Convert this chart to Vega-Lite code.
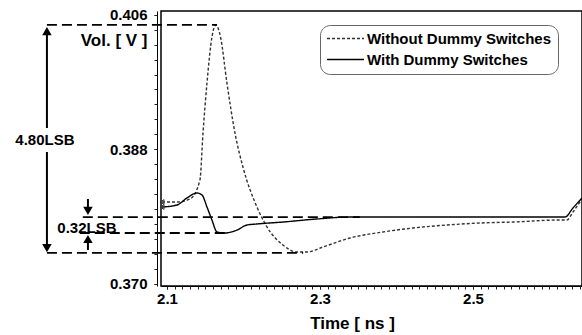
{
  "$schema": "https://vega.github.io/schema/vega-lite/v6.json",
  "width": 421,
  "height": 275,
  "autosize": {"type": "none"},
  "padding": {"left": 161, "top": 11, "right": 0, "bottom": 49},
  "background": "#ffffff",
  "config": {
    "font": "Liberation Sans",
    "view": {"stroke": "#000000", "strokeWidth": 1.5},
    "axis": {"grid": false, "labelFont": "Liberation Sans", "labelFontWeight": "bold", "labelColor": "#000", "titleFont": "Liberation Sans", "titleFontWeight": "bold", "titleColor": "#000", "domainColor": "#000", "tickColor": "#222", "labelOverlap": false}
  },
  "resolve": {"axis": {"x": "independent", "y": "independent"}},
  "datasets": {
    "curves": [
      {"t": 2.0935, "v": 0.38094, "series": "Without Dummy Switches"},
      {"t": 2.1131, "v": 0.38094, "series": "Without Dummy Switches"},
      {"t": 2.1301, "v": 0.38134, "series": "Without Dummy Switches"},
      {"t": 2.1431, "v": 0.38388, "series": "Without Dummy Switches"},
      {"t": 2.1471, "v": 0.39017, "series": "Without Dummy Switches"},
      {"t": 2.1523, "v": 0.39686, "series": "Without Dummy Switches"},
      {"t": 2.1588, "v": 0.40302, "series": "Without Dummy Switches"},
      {"t": 2.1640, "v": 0.40463, "series": "Without Dummy Switches"},
      {"t": 2.1700, "v": 0.40302, "series": "Without Dummy Switches"},
      {"t": 2.1784, "v": 0.39686, "series": "Without Dummy Switches"},
      {"t": 2.1889, "v": 0.39017, "series": "Without Dummy Switches"},
      {"t": 2.1993, "v": 0.38562, "series": "Without Dummy Switches"},
      {"t": 2.2176, "v": 0.38027, "series": "Without Dummy Switches"},
      {"t": 2.2307, "v": 0.3776, "series": "Without Dummy Switches"},
      {"t": 2.2516, "v": 0.37519, "series": "Without Dummy Switches"},
      {"t": 2.2699, "v": 0.37425, "series": "Without Dummy Switches"},
      {"t": 2.283, "v": 0.37425, "series": "Without Dummy Switches"},
      {"t": 2.3039, "v": 0.37492, "series": "Without Dummy Switches"},
      {"t": 2.3392, "v": 0.37612, "series": "Without Dummy Switches"},
      {"t": 2.3824, "v": 0.37693, "series": "Without Dummy Switches"},
      {"t": 2.4216, "v": 0.37746, "series": "Without Dummy Switches"},
      {"t": 2.466, "v": 0.37786, "series": "Without Dummy Switches"},
      {"t": 2.5092, "v": 0.37813, "series": "Without Dummy Switches"},
      {"t": 2.5523, "v": 0.37826, "series": "Without Dummy Switches"},
      {"t": 2.6137, "v": 0.37853, "series": "Without Dummy Switches"},
      {"t": 2.6229, "v": 0.37853, "series": "Without Dummy Switches"},
      {"t": 2.6307, "v": 0.3796, "series": "Without Dummy Switches"},
      {"t": 2.6425, "v": 0.38134, "series": "Without Dummy Switches"},
      {"t": 2.0935, "v": 0.38027, "series": "With Dummy Switches"},
      {"t": 2.1131, "v": 0.38054, "series": "With Dummy Switches"},
      {"t": 2.1261, "v": 0.38148, "series": "With Dummy Switches"},
      {"t": 2.1392, "v": 0.38214, "series": "With Dummy Switches"},
      {"t": 2.1458, "v": 0.38188, "series": "With Dummy Switches"},
      {"t": 2.1523, "v": 0.38027, "series": "With Dummy Switches"},
      {"t": 2.1588, "v": 0.37853, "series": "With Dummy Switches"},
      {"t": 2.1654, "v": 0.37693, "series": "With Dummy Switches"},
      {"t": 2.1758, "v": 0.37679, "series": "With Dummy Switches"},
      {"t": 2.1915, "v": 0.37719, "series": "With Dummy Switches"},
      {"t": 2.2046, "v": 0.37786, "series": "With Dummy Switches"},
      {"t": 2.2176, "v": 0.378, "series": "With Dummy Switches"},
      {"t": 2.2516, "v": 0.37826, "series": "With Dummy Switches"},
      {"t": 2.2961, "v": 0.37867, "series": "With Dummy Switches"},
      {"t": 2.3392, "v": 0.37893, "series": "With Dummy Switches"},
      {"t": 2.4046, "v": 0.37893, "series": "With Dummy Switches"},
      {"t": 2.5092, "v": 0.37893, "series": "With Dummy Switches"},
      {"t": 2.6203, "v": 0.37893, "series": "With Dummy Switches"},
      {"t": 2.6307, "v": 0.38014, "series": "With Dummy Switches"},
      {"t": 2.6425, "v": 0.38148, "series": "With Dummy Switches"}
    ],
    "hlines": [
      {"t1": 1.9431, "t2": 2.1654, "v": 0.40463},
      {"t1": 1.99, "t2": 2.352, "v": 0.37893},
      {"t1": 1.986, "t2": 2.178, "v": 0.37679},
      {"t1": 1.9431, "t2": 2.278, "v": 0.37412}
    ],
    "vlines": [
      {"t": 1.9431, "v1": 0.40382, "v2": 0.39084},
      {"t": 1.9431, "v1": 0.38763, "v2": 0.37478},
      {"t": 1.9967, "v1": 0.38134, "v2": 0.37974},
      {"t": 1.9967, "v1": 0.37599, "v2": 0.37452}
    ],
    "heads": [
      {"t": 1.9431, "v": 0.40382, "dir": "up"},
      {"t": 1.9431, "v": 0.37478, "dir": "down"},
      {"t": 1.9967, "v": 0.37974, "dir": "down"},
      {"t": 1.9967, "v": 0.37599, "dir": "up"}
    ],
    "notes": [
      {"t": 1.9405, "v": 0.38924, "label": "4.80LSB"},
      {"t": 1.9954, "v": 0.37746, "label": "0.32LSB"}
    ]
  },
  "layer": [
    {
      "data": {"name": "curves"},
      "mark": {"type": "line", "interpolate": "monotone", "strokeWidth": 1.4, "clip": true},
      "encoding": {
        "x": {
          "field": "t", "type": "quantitative",
          "scale": {"domain": [2.0922, 2.6425], "nice": false, "zero": false},
          "axis": {
            "orient": "bottom",
            "values": [2.1, 2.3, 2.5],
            "format": ".1f",
            "labelFontSize": 15, "labelPadding": 2, "tickSize": 3, "labelFlush": false,
            "title": "Time [ ns ]", "titleFontSize": 17, "titleX": 191, "titleY": 37, "titleBaseline": "middle", "titleAlign": "center", "titleAnchor": null
          }
        },
        "y": {
          "field": "v", "type": "quantitative",
          "scale": {"domain": [0.3697, 0.4065], "nice": false, "zero": false},
          "axis": {
            "orient": "left",
            "values": [0.370, 0.388, 0.406],
            "format": ".3f",
            "labelFontSize": 15, "labelPadding": 7, "tickSize": 3, "offset": 4, "labelFlush": false,
            "title": "Vol. [ V ]", "titleFontSize": 17, "titleAngle": 0, "titleAlign": "right", "titleBaseline": "middle", "titleX": -10, "titleY": 29, "titleAnchor": null
          }
        },
        "stroke": {
          "field": "series", "type": "nominal",
          "scale": {"domain": ["Without Dummy Switches", "With Dummy Switches"], "range": ["#333333", "#000000"]},
          "legend": {
            "orient": "none", "legendX": 159, "legendY": 14, "title": null,
            "symbolType": "M-3,0H3", "symbolSize": 152, "symbolStrokeWidth": 1.6, "symbolOffset": 12, "symbolFillColor": "transparent",
            "labelFont": "Liberation Sans", "labelFontWeight": "bold", "labelFontSize": 15, "labelColor": "#000", "labelOffset": 14, "labelLimit": 300,
            "strokeColor": "#666666", "cornerRadius": 10, "padding": 6, "rowPadding": 5, "fillColor": "#ffffff"
          }
        },
        "strokeDash": {
          "field": "series", "type": "nominal",
          "scale": {"domain": ["Without Dummy Switches", "With Dummy Switches"], "range": [[3, 2], [1, 0]]},
          "legend": null
        }
      }
    },
    {
      "data": {"name": "curves"},
      "transform": [{"filter": "datum.t < 2.095"}],
      "mark": {"type": "point", "shape": "triangle-left", "size": 22, "filled": false, "strokeWidth": 1, "color": "#333", "opacity": 1},
      "encoding": {
        "x": {"field": "t", "type": "quantitative", "axis": null},
        "y": {"field": "v", "type": "quantitative", "axis": null}
      }
    },
    {
      "data": {"name": "hlines"},
      "mark": {"type": "rule", "strokeDash": [10, 5], "strokeWidth": 1.8, "color": "#000"},
      "encoding": {
        "x": {
          "field": "t1", "type": "quantitative",
          "axis": {
            "orient": "bottom", "labels": false, "title": null, "domain": false, "tickSize": 3,
            "values": [2.1,2.11,2.12,2.13,2.14,2.15,2.16,2.17,2.18,2.19,2.2,2.21,2.22,2.23,2.24,2.25,2.26,2.27,2.28,2.29,2.3,2.31,2.32,2.33,2.34,2.35,2.36,2.37,2.38,2.39,2.4,2.41,2.42,2.43,2.44,2.45,2.46,2.47,2.48,2.49,2.5,2.51,2.52,2.53,2.54,2.55,2.56,2.57,2.58,2.59,2.6,2.61,2.62,2.63,2.64]
          }
        },
        "x2": {"field": "t2"},
        "y": {
          "field": "v", "type": "quantitative",
          "axis": {
            "orient": "left", "labels": false, "title": null, "domain": false, "tickSize": 3, "offset": 4,
            "values": [0.370,0.372,0.374,0.376,0.378,0.380,0.382,0.384,0.386,0.388,0.390,0.392,0.394,0.396,0.398,0.400,0.402,0.404,0.406]
          }
        }
      }
    },
    {
      "data": {"name": "vlines"},
      "mark": {"type": "rule", "strokeWidth": 2, "color": "#000"},
      "encoding": {
        "x": {"field": "t", "type": "quantitative", "axis": null},
        "y": {"field": "v1", "type": "quantitative", "axis": null},
        "y2": {"field": "v2"}
      }
    },
    {
      "data": {"name": "heads"},
      "mark": {"type": "point", "filled": true, "size": 90, "color": "#000", "opacity": 1},
      "encoding": {
        "x": {"field": "t", "type": "quantitative", "axis": null},
        "y": {"field": "v", "type": "quantitative", "axis": null},
        "shape": {"field": "dir", "type": "nominal", "scale": {"domain": ["up", "down"], "range": ["triangle-up", "triangle-down"]}, "legend": null}
      }
    },
    {
      "data": {"name": "notes"},
      "mark": {"type": "text", "font": "Liberation Sans", "fontWeight": "bold", "fontSize": 15, "align": "center", "baseline": "middle", "color": "#000"},
      "encoding": {
        "x": {"field": "t", "type": "quantitative", "axis": null},
        "y": {"field": "v", "type": "quantitative", "axis": null},
        "text": {"field": "label"}
      }
    }
  ]
}
